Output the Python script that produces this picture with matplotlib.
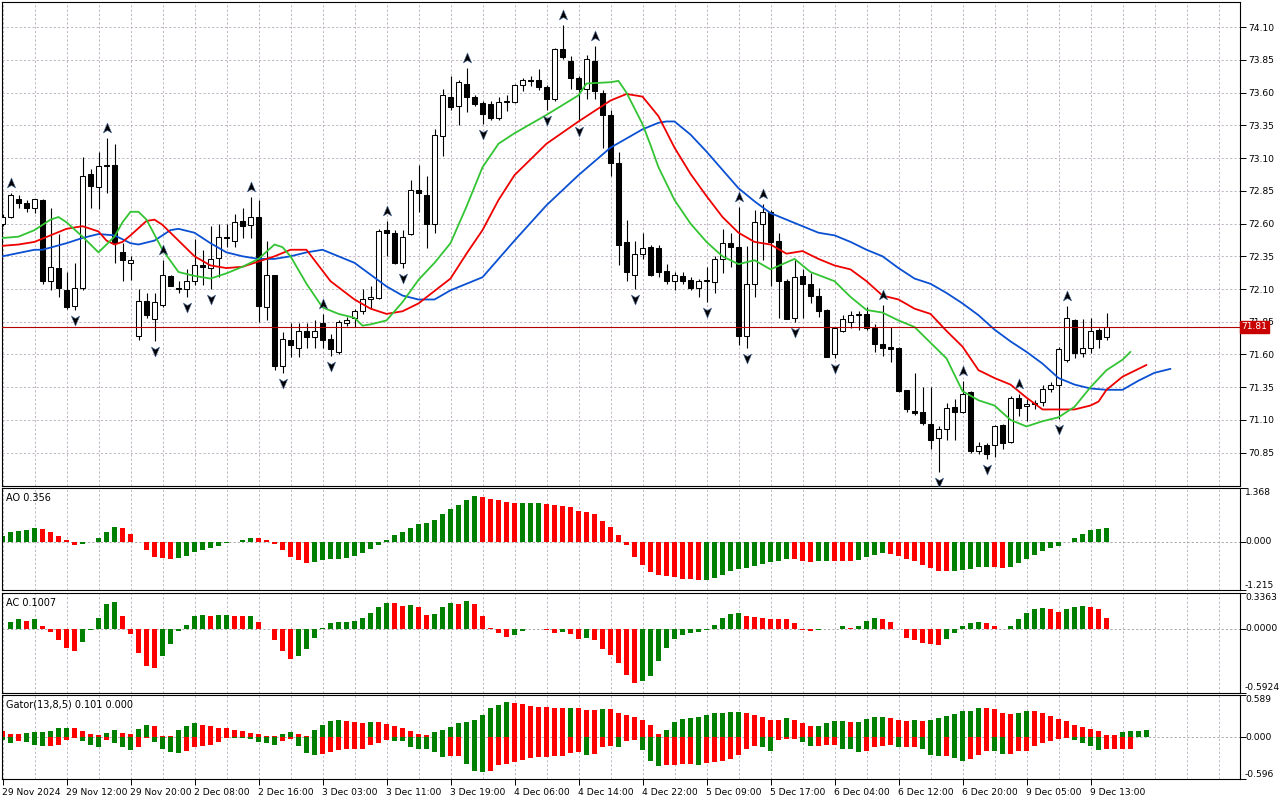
"""
Brent H1 chart with Alligator, fractals, AO, AC and Gator panels (MT5 style).
"""

import numpy as np
import matplotlib
matplotlib.use("Agg")
import matplotlib.pyplot as plt
from matplotlib.path import Path
from matplotlib.transforms import offset_copy, blended_transform_factory

# ---- candles (one per hour) ----
opens = [72.60, 72.65, 72.79, 72.76, 72.72, 72.78, 72.16, 72.26, 72.09, 71.97,
         72.11, 72.98, 72.88, 73.05, 73.05, 72.38, 72.30, 71.74, 72.01, 71.87,
         71.98, 72.20, 72.11, 72.10, 72.16, 72.28, 72.26, 72.34, 72.50, 72.47,
         72.62, 72.59, 72.65, 71.96, 72.21, 71.51, 71.71, 71.65, 71.78, 71.73,
         71.84, 71.72, 71.62, 71.84, 71.88, 71.93, 72.02, 72.03, 72.55, 72.53,
         72.30, 72.52, 72.86, 72.82, 72.60, 73.27, 73.57, 73.50, 73.67, 73.57,
         73.52, 73.51, 73.41, 73.53, 73.53, 73.66, 73.70, 73.70, 73.64, 73.55,
         73.93, 73.84, 73.71, 73.63, 73.84, 73.60, 73.43, 73.06, 72.46, 72.21,
         72.37, 72.42, 72.41, 72.24, 72.16, 72.20, 72.17, 72.11, 72.16, 72.15,
         72.33, 72.45, 72.42, 71.74, 72.14, 72.60, 72.69, 72.47, 72.16, 71.88,
         72.20, 72.14, 72.05, 71.94, 71.60, 71.78, 71.85, 71.90, 71.91, 71.80,
         71.68, 71.66, 71.65, 71.33, 71.17, 71.16, 71.07, 70.96, 71.03, 71.20,
         71.16, 71.31, 70.86, 70.91, 70.91, 71.06, 70.93, 71.27, 71.21, 71.23,
         71.24, 71.34, 71.37, 71.56, 71.86, 71.61, 71.65, 71.79, 71.73]
highs = [72.67, 72.83, 72.82, 72.78, 72.79, 72.79, 72.72, 72.52, 72.23, 72.30,
         73.11, 73.02, 73.15, 73.25, 73.21, 72.45, 72.35, 72.10, 72.07, 72.07,
         72.32, 72.21, 72.16, 72.25, 72.48, 72.40, 72.58, 72.60, 72.60, 72.67,
         72.72, 72.80, 72.78, 72.47, 72.21, 71.77, 71.84, 71.84, 71.84, 71.86,
         71.91, 71.76, 71.86, 71.89, 71.95, 72.10, 72.12, 72.56, 72.62, 72.55,
         72.55, 72.93, 73.05, 72.96, 73.32, 73.63, 73.73, 73.70, 73.79, 73.58,
         73.54, 73.54, 73.57, 73.58, 73.67, 73.71, 73.73, 73.78, 73.66, 73.94,
         74.12, 73.88, 73.73, 73.89, 73.96, 73.62, 73.47, 73.15, 72.63, 72.47,
         72.53, 72.44, 72.44, 72.29, 72.23, 72.23, 72.19, 72.18, 72.27, 72.35,
         72.56, 72.53, 72.73, 72.43, 72.70, 72.75, 72.70, 72.53, 72.18, 72.32,
         72.25, 72.22, 72.11, 71.95, 71.81, 71.90, 71.93, 71.93, 71.96, 71.83,
         71.98, 71.81, 71.66, 71.33, 71.46, 71.35, 71.35, 71.05, 71.23, 71.26,
         71.40, 71.32, 70.93, 70.92, 71.06, 71.07, 71.28, 71.30, 71.26, 71.25,
         71.37, 71.39, 71.66, 71.97, 71.87, 71.87, 71.88, 71.80, 71.92]
lows = [72.58, 72.64, 72.72, 72.69, 72.68, 72.14, 72.09, 72.04, 71.95, 71.94,
        72.09, 72.72, 72.71, 72.83, 72.30, 72.16, 72.17, 71.71, 71.88, 71.70,
        71.96, 72.12, 72.07, 72.04, 72.13, 72.13, 72.10, 72.19, 72.42, 72.42,
        72.49, 72.49, 71.85, 71.86, 71.48, 71.46, 71.58, 71.58, 71.65, 71.65,
        71.65, 71.59, 71.60, 71.82, 71.81, 71.91, 71.95, 72.02, 72.35, 72.29,
        72.26, 72.51, 72.69, 72.41, 72.53, 73.12, 73.47, 73.35, 73.45, 73.50,
        73.36, 73.39, 73.39, 73.46, 73.52, 73.61, 73.65, 73.62, 73.47, 73.54,
        73.86, 73.63, 73.38, 73.55, 73.55, 73.18, 72.96, 72.28, 72.16, 72.10,
        72.33, 72.20, 72.19, 72.14, 72.09, 72.14, 72.09, 72.04, 72.00, 72.07,
        72.22, 72.27, 71.67, 71.65, 72.04, 72.32, 72.12, 71.88, 71.87, 71.85,
        71.88, 71.99, 71.89, 71.58, 71.57, 71.77, 71.80, 71.79, 71.79, 71.62,
        71.59, 71.54, 71.31, 71.16, 71.14, 71.06, 70.88, 70.70, 70.95, 70.95,
        71.15, 70.85, 70.84, 70.80, 70.82, 70.88, 70.92, 71.13, 71.09, 71.18,
        71.21, 71.31, 71.11, 71.54, 71.57, 71.58, 71.61, 71.65, 71.71]
closes = [72.65, 72.82, 72.76, 72.72, 72.79, 72.16, 72.27, 72.11, 71.96, 72.11,
          72.96, 72.89, 73.04, 73.04, 72.45, 72.32, 72.32, 72.01, 71.90, 72.00,
          72.21, 72.12, 72.10, 72.16, 72.28, 72.27, 72.33, 72.50, 72.49, 72.61,
          72.58, 72.65, 71.97, 72.21, 71.51, 71.72, 71.67, 71.78, 71.73, 71.78,
          71.71, 71.64, 71.85, 71.86, 71.93, 72.02, 72.04, 72.54, 72.53, 72.30,
          72.50, 72.86, 72.83, 72.60, 73.28, 73.58, 73.49, 73.68, 73.57, 73.51,
          73.44, 73.41, 73.53, 73.54, 73.66, 73.70, 73.69, 73.64, 73.55, 73.93,
          73.87, 73.71, 73.63, 73.86, 73.61, 73.43, 73.06, 72.44, 72.23, 72.37,
          72.41, 72.21, 72.23, 72.16, 72.21, 72.16, 72.11, 72.16, 72.17, 72.33,
          72.45, 72.42, 71.74, 72.14, 72.61, 72.69, 72.46, 72.16, 71.87, 72.19,
          72.14, 72.05, 71.93, 71.58, 71.80, 71.87, 71.90, 71.91, 71.80, 71.68,
          71.65, 71.64, 71.32, 71.18, 71.15, 71.08, 70.95, 71.03, 71.19, 71.16,
          71.30, 70.86, 70.90, 70.84, 71.05, 70.92, 71.27, 71.19, 71.22, 71.22,
          71.34, 71.37, 71.64, 71.88, 71.61, 71.65, 71.78, 71.72, 71.81]
last_price = 71.81

fractal_up = [1, 13, 20, 31, 40, 48, 58, 70, 74, 92, 95, 110, 120, 127, 133]
fractal_down = [9, 19, 23, 26, 35, 41, 50, 60, 68, 72, 79, 88, 93, 99, 104,
                117, 123, 132]

# ---- alligator lines, read at bar indexes ----
jaw_bars = [0, 4, 5, 8, 10, 12, 14, 16, 17, 19, 20, 21, 22, 24, 26, 28, 30,
            32, 34, 36, 38, 40, 44, 46, 48, 50, 52, 54, 56, 60, 64, 68, 72,
            76, 80, 82, 83, 84, 86, 88, 90, 92, 94, 96, 98, 100, 102, 104,
            106, 108, 110, 112, 114, 116, 118, 120, 122, 124, 126, 128, 130,
            132, 134, 136, 138, 140, 142, 144, 146]
jaw_vals = [72.35, 72.40, 72.40, 72.45, 72.49, 72.52, 72.51, 72.45, 72.44,
            72.47, 72.51, 72.55, 72.56, 72.53, 72.45, 72.38, 72.35, 72.33,
            72.33, 72.35, 72.38, 72.40, 72.30, 72.21, 72.12, 72.05, 72.02,
            72.02, 72.09, 72.19, 72.47, 72.74, 72.97, 73.18, 73.32, 73.37,
            73.38, 73.38, 73.28, 73.15, 73.01, 72.87, 72.77, 72.68, 72.63,
            72.58, 72.53, 72.51, 72.46, 72.40, 72.35, 72.26, 72.18, 72.14,
            72.07, 71.99, 71.90, 71.79, 71.70, 71.62, 71.53, 71.42, 71.37,
            71.34, 71.33, 71.33, 71.40, 71.46, 71.49]
teeth_bars = [0, 2, 4, 6, 8, 10, 11, 12, 13, 14, 15, 16, 18, 19, 20, 22, 24,
              26, 28, 30, 32, 34, 36, 38, 40, 41, 44, 46, 48, 50, 52, 56, 58,
              60, 62, 64, 68, 72, 76, 78, 80, 82, 84, 86, 88, 90, 92, 94, 96,
              98, 100, 102, 104, 106, 108, 110, 112, 114, 116, 118, 120, 122,
              124, 126, 128, 130, 132, 134, 136, 137, 138, 140, 142, 143]
teeth_vals = [72.43, 72.44, 72.46, 72.51, 72.56, 72.58, 72.56, 72.54, 72.47,
              72.44, 72.46, 72.51, 72.62, 72.63, 72.59, 72.47, 72.35, 72.28,
              72.26, 72.27, 72.31, 72.35, 72.40, 72.40, 72.24, 72.16, 72.02,
              71.95, 71.91, 71.93, 71.99, 72.18, 72.37, 72.55, 72.78, 72.97,
              73.21, 73.38, 73.54, 73.59, 73.57, 73.42, 73.18, 72.98, 72.81,
              72.65, 72.53, 72.46, 72.44, 72.37, 72.39, 72.33, 72.28, 72.25,
              72.16, 72.05, 72.02, 71.95, 71.91, 71.78, 71.66, 71.48, 71.42,
              71.37, 71.27, 71.18, 71.18, 71.18, 71.21, 71.24, 71.33, 71.43,
              71.49, 71.52]
lips_bars = [0, 2, 4, 6, 7, 8, 10, 12, 14, 15, 16, 17, 18, 20, 22, 24, 26, 28,
             30, 32, 34, 35, 36, 38, 40, 42, 44, 45, 46, 48, 50, 52, 54, 56,
             58, 60, 62, 64, 68, 72, 73, 76, 77, 78, 79, 80, 81, 82, 84, 86,
             88, 90, 92, 94, 96, 99, 100, 101, 104, 106, 108, 110, 112, 114,
             116, 118, 120, 122, 124, 126, 128, 130, 132, 134, 136, 138, 140,
             141]
lips_vals = [72.49, 72.50, 72.55, 72.63, 72.65, 72.61, 72.50, 72.38, 72.50,
             72.61, 72.69, 72.69, 72.63, 72.40, 72.23, 72.20, 72.18, 72.22,
             72.27, 72.33, 72.44, 72.42, 72.35, 72.14, 71.96, 71.91, 71.88,
             71.82, 71.83, 71.86, 72.00, 72.17, 72.30, 72.45, 72.73, 73.03,
             73.21, 73.29, 73.43, 73.58, 73.67, 73.68, 73.69, 73.60, 73.48,
             73.36, 73.20, 73.03, 72.78, 72.60, 72.46, 72.35, 72.29, 72.32,
             72.25, 72.33, 72.28, 72.23, 72.16, 72.04, 71.94, 71.92, 71.86,
             71.81, 71.69, 71.57, 71.32, 71.25, 71.21, 71.10, 71.05, 71.09,
             71.12, 71.20, 71.35, 71.48, 71.56, 71.62]

# ---- oscillators ----
ao = [0.159, 0.258, 0.275, 0.309, 0.358, 0.333, 0.258, 0.159, 0.058, -0.067,
      -0.057, -0.010, 0.108, 0.258, 0.384, 0.342, 0.208, -0.010, -0.208, -0.384,
      -0.417, -0.442, -0.409, -0.358, -0.258, -0.208, -0.159, -0.108, -0.033, -0.008,
      0.058, 0.108, 0.104, 0.058, -0.058, -0.208, -0.384, -0.466, -0.533, -0.508,
      -0.466, -0.442, -0.437, -0.409, -0.358, -0.283, -0.183, -0.067, 0.058, 0.183,
      0.258, 0.358, 0.458, 0.484, 0.559, 0.709, 0.833, 0.933, 1.058, 1.158,
      1.133, 1.083, 1.058, 1.008, 0.983, 0.988, 0.990, 0.993, 0.959, 0.933,
      0.908, 0.884, 0.784, 0.758, 0.709, 0.533, 0.384, 0.183, -0.084, -0.384,
      -0.583, -0.767, -0.833, -0.859, -0.884, -0.933, -0.936, -0.959, -0.954, -0.908,
      -0.833, -0.733, -0.683, -0.658, -0.608, -0.559, -0.508, -0.484, -0.433, -0.437,
      -0.484, -0.508, -0.484, -0.480, -0.483, -0.485, -0.486, -0.458, -0.384, -0.333,
      -0.283, -0.309, -0.358, -0.433, -0.484, -0.583, -0.658, -0.733, -0.736, -0.731,
      -0.709, -0.683, -0.634, -0.632, -0.635, -0.658, -0.634, -0.533, -0.433, -0.333,
      -0.234, -0.150, -0.108, 0.005, 0.108, 0.208, 0.290, 0.330, 0.356]
ac = [np.nan, 0.068, 0.087, 0.077, 0.087, 0.031, -0.031, -0.105, -0.180, -0.207,
      -0.124, -0.012, 0.105, 0.235, 0.254, 0.115, -0.050, -0.226, -0.347, -0.365,
      -0.254, -0.142, -0.022, 0.040, 0.124, 0.133, 0.124, 0.125, 0.133, 0.124,
      0.115, 0.116, 0.068, -0.002, -0.105, -0.207, -0.282, -0.254, -0.189, -0.087,
      0.012, 0.050, 0.059, 0.068, 0.069, 0.105, 0.152, 0.207, 0.245, 0.244,
      0.217, 0.218, 0.207, 0.133, 0.142, 0.207, 0.245, 0.235, 0.263, 0.235,
      0.124, 0.009, -0.040, -0.077, -0.059, -0.022, -0.003, 0.001, -0.012, -0.040,
      -0.031, -0.050, -0.096, -0.087, -0.105, -0.189, -0.245, -0.319, -0.430, -0.505,
      -0.486, -0.440, -0.300, -0.180, -0.096, -0.059, -0.040, -0.031, -0.012, 0.040,
      0.105, 0.142, 0.152, 0.115, 0.114, 0.105, 0.096, 0.095, 0.087, 0.050,
      -0.012, -0.022, -0.012, 0.000, -0.003, 0.022, 0.012, 0.031, 0.077, 0.105,
      0.096, 0.059, -0.002, -0.087, -0.105, -0.133, -0.142, -0.152, -0.096, -0.040,
      0.022, 0.050, 0.068, 0.050, 0.031, -0.003, 0.022, 0.096, 0.152, 0.189,
      0.198, 0.189, 0.161, 0.189, 0.207, 0.217, 0.207, 0.180, 0.1007]
gator_up = [0.080, 0.042, 0.041, 0.056, 0.071, 0.075, 0.085, 0.122, 0.127, 0.125,
            0.085, 0.042, 0.028, 0.056, 0.099, 0.056, 0.042, 0.113, 0.169, 0.155,
            0.014, 0.012, 0.099, 0.155, 0.197, 0.169, 0.155, 0.127, 0.125, 0.099,
            0.085, 0.056, 0.042, 0.014, 0.013, 0.042, 0.071, 0.042, 0.014, 0.099,
            0.169, 0.226, 0.240, 0.226, 0.212, 0.197, 0.212, 0.211, 0.183, 0.155,
            0.127, 0.085, 0.042, 0.028, 0.071, 0.099, 0.141, 0.197, 0.212, 0.240,
            0.310, 0.409, 0.451, 0.494, 0.480, 0.465, 0.437, 0.423, 0.422, 0.409,
            0.408, 0.411, 0.405, 0.381, 0.378, 0.395, 0.392, 0.339, 0.310, 0.282,
            0.240, 0.169, 0.042, 0.099, 0.212, 0.254, 0.268, 0.282, 0.310, 0.339,
            0.340, 0.353, 0.355, 0.339, 0.310, 0.282, 0.240, 0.238, 0.268, 0.240,
            0.197, 0.155, 0.156, 0.197, 0.226, 0.227, 0.212, 0.213, 0.254, 0.282,
            0.283, 0.268, 0.240, 0.226, 0.240, 0.226, 0.240, 0.268, 0.296, 0.324,
            0.367, 0.368, 0.409, 0.408, 0.395, 0.339, 0.324, 0.339, 0.367, 0.366,
            0.339, 0.296, 0.254, 0.226, 0.169, 0.141, 0.113, 0.085, 0.028, 0.027,
            0.071, 0.085, 0.086, 0.101]
gator_dn = [0.038, 0.080, 0.052, 0.066, 0.108, 0.122, 0.120, 0.118, 0.038, 0.009,
            0.052, 0.108, 0.136, 0.038, 0.080, 0.136, 0.179, 0.136, 0.009, 0.066,
            0.165, 0.207, 0.221, 0.193, 0.136, 0.122, 0.108, 0.066, 0.009, 0.010,
            0.011, 0.024, 0.066, 0.080, 0.108, 0.052, 0.024, 0.122, 0.221, 0.249,
            0.235, 0.207, 0.179, 0.165, 0.164, 0.163, 0.108, 0.080, 0.038, 0.052,
            0.053, 0.136, 0.165, 0.166, 0.207, 0.277, 0.263, 0.262, 0.376, 0.475,
            0.489, 0.475, 0.390, 0.376, 0.348, 0.320, 0.291, 0.277, 0.276, 0.263,
            0.262, 0.221, 0.207, 0.249, 0.235, 0.136, 0.122, 0.136, 0.052, 0.038,
            0.179, 0.334, 0.404, 0.390, 0.388, 0.386, 0.385, 0.392, 0.362, 0.348,
            0.334, 0.306, 0.249, 0.165, 0.122, 0.136, 0.193, 0.038, 0.024, 0.023,
            0.066, 0.122, 0.120, 0.108, 0.107, 0.165, 0.166, 0.207, 0.193, 0.136,
            0.122, 0.108, 0.136, 0.135, 0.134, 0.165, 0.249, 0.263, 0.262, 0.291,
            0.334, 0.306, 0.249, 0.193, 0.194, 0.235, 0.234, 0.193, 0.192, 0.122,
            0.080, 0.052, 0.024, 0.009, 0.038, 0.080, 0.122, 0.179, 0.165, 0.164,
            0.163, 0.162]

time_labels = ["29 Nov 2024", "29 Nov 12:00", "29 Nov 20:00", "2 Dec 08:00",
               "2 Dec 16:00", "3 Dec 03:00", "3 Dec 11:00", "3 Dec 19:00",
               "4 Dec 06:00", "4 Dec 14:00", "4 Dec 22:00", "5 Dec 09:00",
               "5 Dec 17:00", "6 Dec 04:00", "6 Dec 12:00", "6 Dec 20:00",
               "9 Dec 05:00", "9 Dec 13:00"]
price_ticks = [70.85, 71.10, 71.35, 71.60, 71.85, 72.10, 72.35, 72.60,
               72.85, 73.10, 73.35, 73.60, 73.85, 74.10]

GREEN = "#008000"
RED = "#ff0000"
GRID = "#c0b4c4"
FS = 6.6
plt.rcParams["font.family"] = ["DejaVu Sans"]

W, H = 1280, 800
X_LEFT, X_RIGHT = 1.5, 1240.0
BAR0, STEP = 2.5, 8.0
XLIM = ((X_LEFT - BAR0) / STEP, (X_RIGHT - BAR0) / STEP)


def axes_at(top_px, bottom_px):
    return fig.add_axes([X_LEFT / W, 1 - bottom_px / H,
                         (X_RIGHT - X_LEFT) / W, (bottom_px - top_px) / H])


def hist_colors(vals, first):
    cols, cur = [], first
    for i, v in enumerate(vals):
        if i > 0 and not np.isnan(v) and not np.isnan(vals[i - 1]):
            if v > vals[i - 1]:
                cur = GREEN
            elif v < vals[i - 1]:
                cur = RED
        cols.append(cur)
    return cols


def frame(ax):
    ax.set_xlim(*XLIM)
    for s in ax.spines.values():
        s.set_color("black")
        s.set_linewidth(0.8)
    ax.set_xticks([])
    ax.tick_params(axis="y", left=False, right=True, direction="out",
                   length=4, width=0.7, labelsize=FS, pad=2,
                   labelleft=False, labelright=True)
    for k in range(0, 156, 4):
        ax.axvline(k, color=GRID, lw=0.7, ls=(0, (2.2, 2.2)), zorder=0)


def indicator(ax, vals_lo, vals_hi, label, fmt):
    ax.set_ylim(vals_lo, vals_hi)
    ax.set_yticks([vals_lo, 0, vals_hi])
    ax.set_yticklabels([])
    ax.axhline(0, color="#a8a8a8", lw=0.7, ls=(0, (2.2, 2.2)), zorder=0)
    tr = blended_transform_factory(ax.transAxes, ax.transData)
    xt = 1 + 5.0 / (X_RIGHT - X_LEFT)
    ax.text(xt, vals_hi, fmt.format(vals_hi), transform=tr, fontsize=FS,
            va="top", ha="left", clip_on=False)
    ax.text(xt, 0, fmt.format(0), transform=tr, fontsize=FS,
            va="center", ha="left", clip_on=False)
    ax.text(xt, vals_lo, fmt.format(vals_lo), transform=tr, fontsize=FS,
            va="bottom", ha="left", clip_on=False)
    ax.text(4.0 / (X_RIGHT - X_LEFT), 0.95, label, transform=ax.transAxes,
            fontsize=FS + 0.4, va="top", ha="left")


fig = plt.figure(figsize=(W / 100, H / 100), dpi=100, facecolor="white")

# ---- main price panel ----
ax = axes_at(1.7, 485.5)
frame(ax)
ax.set_ylim(70.599, 74.295)
ax.set_yticks(price_ticks)
ax.set_yticklabels([f"{p:.2f}" for p in price_ticks])
for p in price_ticks:
    ax.axhline(p, color=GRID, lw=0.7, ls=(0, (2.2, 2.2)), zorder=0)

x = np.arange(len(opens))
o, hi, lo, c = (np.array(a) for a in (opens, highs, lows, closes))
ax.vlines(x, lo, hi, color="black", lw=0.8, zorder=2)
body_lo = np.minimum(o, c)
body_h = np.maximum(np.abs(c - o), 0.004)
ax.bar(x, body_h, bottom=body_lo, width=0.56,
       color=np.where(c >= o, "white", "black"), edgecolor="black",
       linewidth=0.75, zorder=3)

line_kw = dict(lw=1.3, zorder=4, solid_joinstyle="round", solid_capstyle="round")
ax.plot(jaw_bars, jaw_vals, color="#0a50d2", **line_kw)
ax.plot(teeth_bars, teeth_vals, color="#ee0000", **line_kw)
ax.plot(lips_bars, lips_vals, color="#33c433", **line_kw)

arrow_up = Path([(0, 1), (0.75, -0.8), (0, -0.35), (-0.75, -0.8), (0, 1)],
                [Path.MOVETO, Path.LINETO, Path.LINETO, Path.LINETO, Path.CLOSEPOLY])
arrow_dn = Path([(0, -1), (0.75, 0.8), (0, 0.35), (-0.75, 0.8), (0, -1)],
                [Path.MOVETO, Path.LINETO, Path.LINETO, Path.LINETO, Path.CLOSEPOLY])
up_tr = offset_copy(ax.transData, fig=fig, x=0, y=10, units="dots")
dn_tr = offset_copy(ax.transData, fig=fig, x=0, y=-10, units="dots")
ax.plot(fractal_up, hi[fractal_up], ls="none", marker=arrow_up, ms=8,
        mfc="black", mec="#5070a0", mew=0.4, transform=up_tr, zorder=5)
ax.plot(fractal_down, lo[fractal_down], ls="none", marker=arrow_dn, ms=8,
        mfc="black", mec="#5070a0", mew=0.4, transform=dn_tr, zorder=5)

ax.axhline(last_price, color="#b40000", lw=0.8, zorder=4)
tr = blended_transform_factory(ax.transAxes, ax.transData)
ax.text(1 + 1.5 / (X_RIGHT - X_LEFT), last_price, f"{last_price:.2f}",
        transform=tr, fontsize=FS, color="white", va="center", ha="left",
        clip_on=False, zorder=6,
        bbox=dict(boxstyle="square,pad=0.18", facecolor="#c80000",
                  edgecolor="#c80000"))

# ---- AO ----
ax_ao = axes_at(487.7, 590.0)
frame(ax_ao)
indicator(ax_ao, -1.215, 1.368, "AO 0.356", "{:.3f}")
ax_ao.bar(np.arange(len(ao)), ao, width=0.6,
          color=hist_colors(ao, GREEN), zorder=2)

# ---- AC ----
ax_ac = axes_at(592.7, 692.5)
frame(ax_ac)
indicator(ax_ac, -0.5924, 0.3363, "AC 0.1007", "{:.4f}")
ac_arr = np.array(ac)
ax_ac.bar(np.arange(len(ac)), np.nan_to_num(ac_arr), width=0.6,
          color=hist_colors(ac, GREEN), zorder=2)

# ---- Gator ----
ax_g = axes_at(695.3, 779.3)
frame(ax_g)
indicator(ax_g, -0.596, 0.589, "Gator(13,8,5) 0.101 0.000", "{:.3f}")
ax_g.bar(np.arange(len(gator_up)), gator_up, width=0.6,
         color=hist_colors(gator_up, RED), zorder=2)
ax_g.bar(np.arange(len(gator_dn)), -np.array(gator_dn), width=0.6,
         color=hist_colors(gator_dn, GREEN), zorder=2)

ax_g.set_xticks(np.arange(0, 8 * len(time_labels), 8))
ax_g.set_xticklabels(time_labels, ha="left", fontsize=FS)
ax_g.tick_params(axis="x", bottom=True, direction="out", length=4,
                 width=0.7, pad=2)

fig.savefig("out.png", dpi=100, facecolor="white")
